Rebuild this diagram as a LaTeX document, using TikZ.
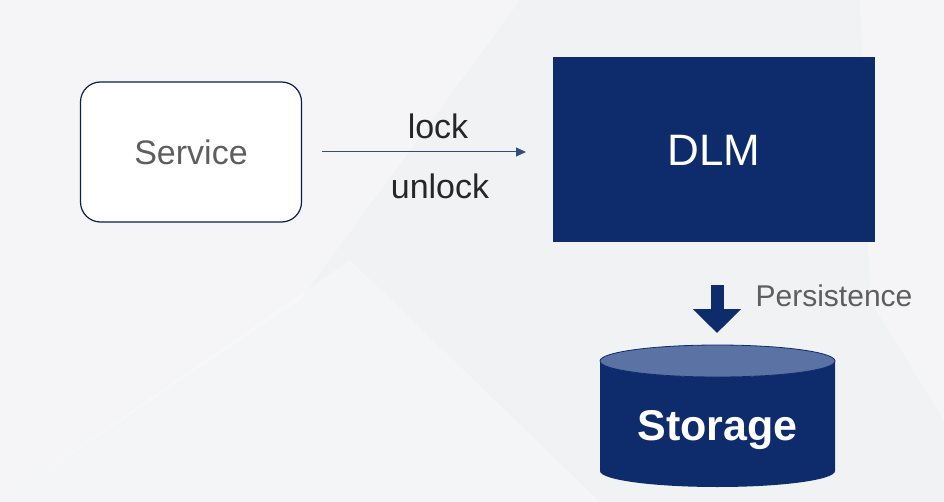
\documentclass[tikz,border=0pt]{standalone}
\usepackage{fontspec}
\setmainfont{Liberation Sans}
\usetikzlibrary{arrows.meta}
\definecolor{navy}{HTML}{0E2C6C}
\definecolor{navylight}{HTML}{5A72A4}
\definecolor{bgcol}{HTML}{F1F2F4}
\definecolor{txtgray}{HTML}{5E5E5E}
\tikzset{
  servicebox/.style={draw=navy!70!black, line width=1.2pt, rounded corners=20pt, fill=white,
    minimum width=221pt, minimum height=140pt, inner sep=0pt},
  dlmbox/.style={fill=navy, minimum width=322pt, minimum height=185pt, inner sep=0pt,
    text=white, font=\fontsize{44}{50}\selectfont},
  lbl/.style={inner sep=0pt, text=black!85, font=\fontsize{34}{40}\selectfont},
  flow/.style={draw=navy!85, line width=1pt, -{Triangle[width=9pt,length=10pt]}},
  blockarrow/.style={draw=navy, line width=13pt, -{Triangle[width=47pt,length=24pt]}},
}
\begin{document}
\begin{tikzpicture}[x=1pt,y=-1pt]
\useasboundingbox (0,0) rectangle (944,502);
\fill[bgcol] (0,0) rectangle (944,502);
\fill[white,opacity=0.3] (0,0) -- (520,0) -- (300,300) -- (0,502) -- cycle;
\fill[white,opacity=0.25] (0,502) -- (350,260) -- (600,502) -- cycle;
\fill[white,opacity=0.3] (860,0) -- (944,0) -- (944,420) -- (870,300) -- cycle;

\node[servicebox, text=txtgray, font=\fontsize{34}{40}\selectfont] (service) at (191,152) {Service};
\node[dlmbox] (dlm) at (714,150) {DLM};

\coordinate (arrS) at (322,152);
\coordinate (arrE) at (526,152);
\draw[flow] (arrS) -- (arrE);
\node[lbl] (lock) at (438,126) {lock};
\node[lbl] (unlock) at (440,186) {unlock};

% cylinder
\fill[navy] (600,361) -- (600,471) arc[start angle=180,end angle=360,x radius=117.5pt,y radius=16pt]
  -- (835,361) arc[start angle=0,end angle=-180,x radius=117.5pt,y radius=16pt] -- cycle;
\fill[navylight, draw=navy, line width=0.8pt] (717.5,361) ellipse [x radius=117.5pt, y radius=16pt];
\node[inner sep=0pt, text=white, font=\bfseries\fontsize{43}{50}\selectfont] (storage) at (717.5,430) {Storage};

\coordinate (pS) at (717,285);
\coordinate (pE) at (717,333);
\draw[blockarrow] (pS) -- (pE);
\node[inner sep=0pt, text=txtgray, font=\fontsize{30}{36}\selectfont] (persist) at (834,296) {Persistence};
\end{tikzpicture}
\end{document}
